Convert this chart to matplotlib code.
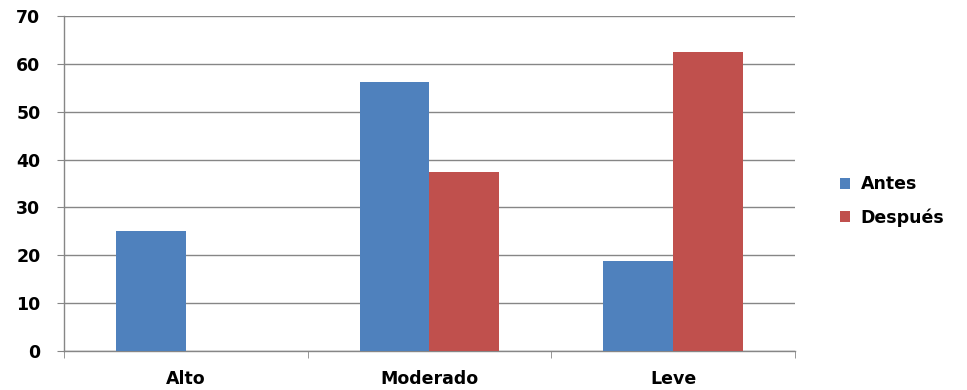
import numpy as np
import matplotlib.pyplot as plt
from matplotlib.ticker import FixedLocator, NullFormatter

# Datos
categorias = ['Alto', 'Moderado', 'Leve']
antes = [25, 56.25, 18.75]
despues = [0, 37.5, 62.5]
yticks = [0, 10, 20, 30, 40, 50, 60, 70]

azul = '#4F81BD'
rojo = '#C0504D'
gris = '#868686'

plt.rcParams['font.family'] = 'DejaVu Sans'

fig = plt.figure(figsize=(9.67, 3.90), dpi=100)
ax = fig.add_axes([0.0662, 0.100, 0.7558, 0.859])

x = np.arange(len(categorias))
ancho = 0.287
ax.bar(x - ancho / 2, antes, width=ancho, color=azul, label='Antes', zorder=3)
ax.bar(x + ancho / 2, despues, width=ancho, color=rojo, label='Después', zorder=3)

ax.set_xlim(-0.5, len(categorias) - 0.5)
ax.set_ylim(0, 70)
ax.set_yticks(yticks)
ax.set_yticklabels([str(v) for v in yticks], fontsize=12.5, fontweight='bold')

# Etiquetas centradas, marcas entre categorías
ax.set_xticks(x)
ax.set_xticklabels(categorias, fontsize=12.5, fontweight='bold')
ax.tick_params(axis='x', which='major', length=0, pad=14)
ax.xaxis.set_minor_locator(FixedLocator(np.arange(-0.5, len(categorias), 1.0)))
ax.xaxis.set_minor_formatter(NullFormatter())
ax.tick_params(axis='x', which='minor', length=5, color=gris, direction='out')
ax.tick_params(axis='y', length=5, color=gris, direction='out', pad=12)

ax.grid(axis='y', color=gris, linewidth=1, zorder=0)
ax.set_axisbelow(True)
for lado in ['top', 'right']:
    ax.spines[lado].set_visible(False)
for lado in ['left', 'bottom']:
    ax.spines[lado].set_color(gris)
    ax.spines[lado].set_linewidth(1)

leg = ax.legend(loc='center left', bbox_to_anchor=(1.04, 0.448), frameon=False,
                prop={'size': 12.5, 'weight': 'bold'}, handlelength=0.6,
                handleheight=0.6, handletextpad=0.6, labelspacing=0.85)

fig.savefig('out.png', dpi=100)
